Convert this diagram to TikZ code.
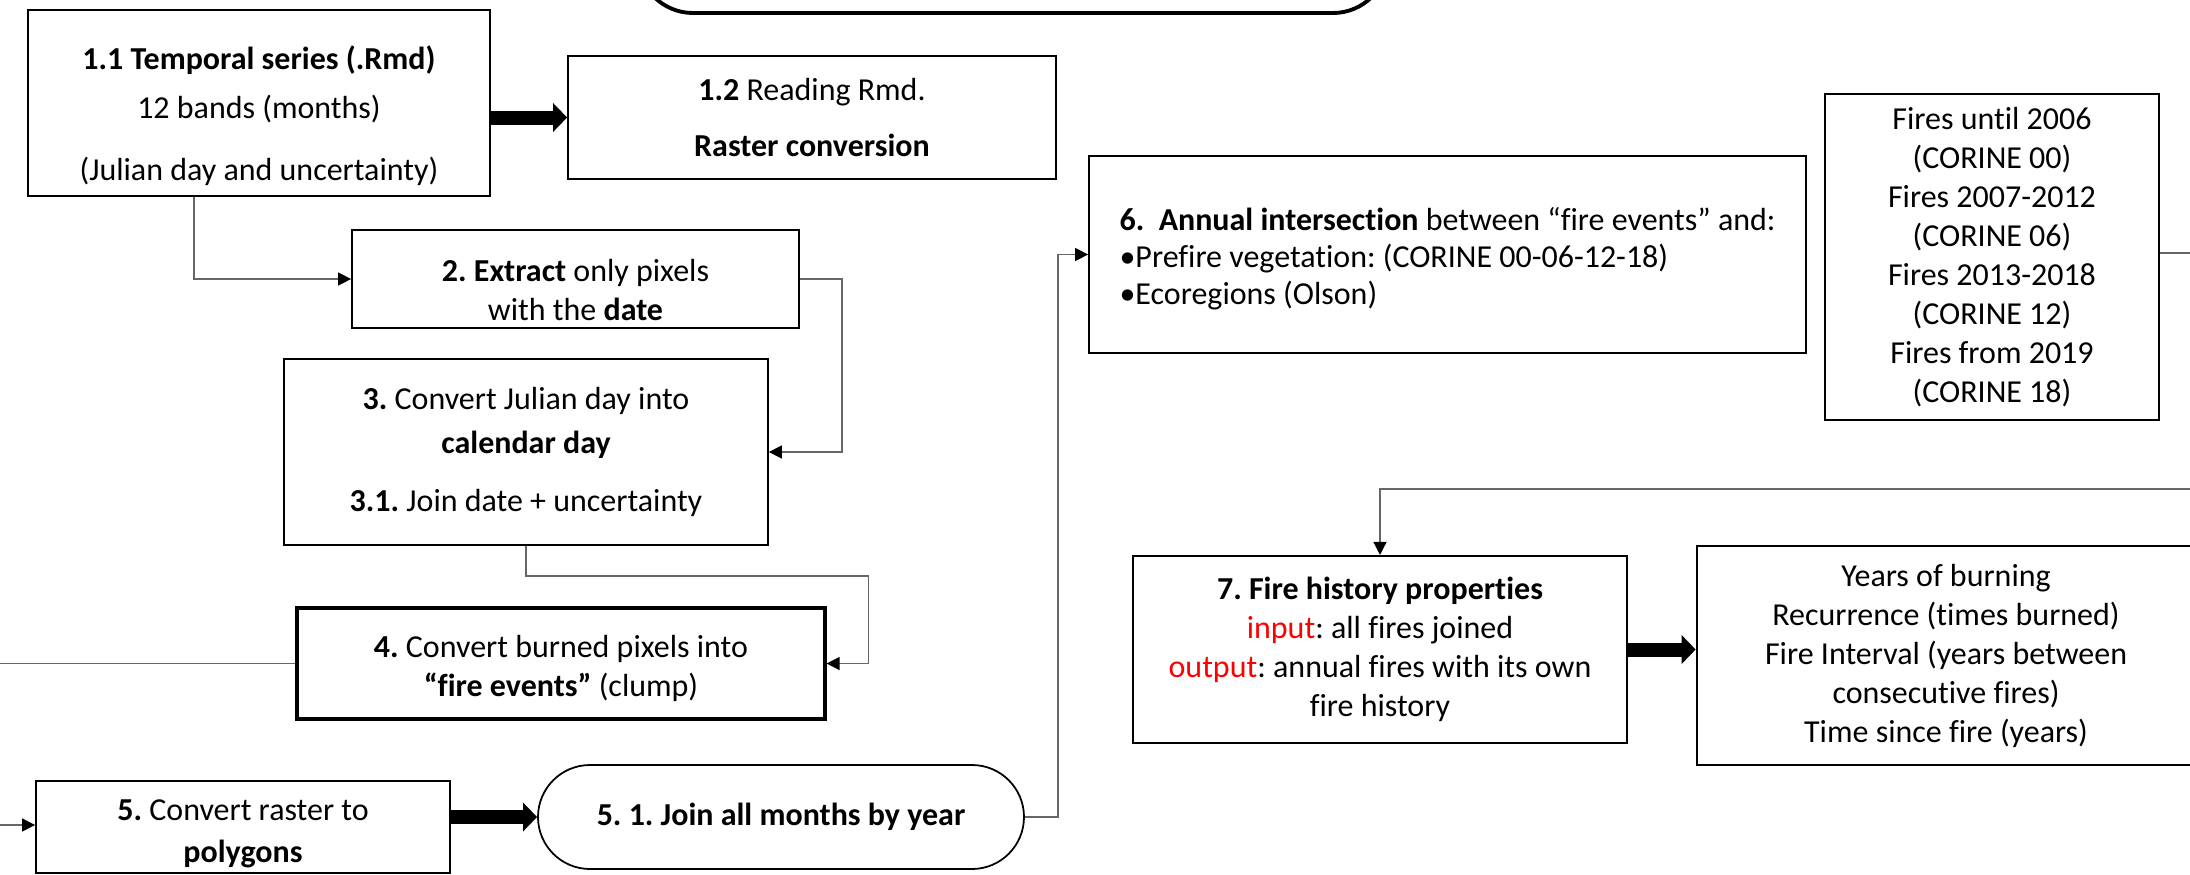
\documentclass[tikz,border=0pt]{standalone}
\usepackage{fontspec}
\setmainfont{Carlito}[Ligatures={TeX,NoCommon}]
\usetikzlibrary{arrows.meta}
% taller first line, to set the text lower in its box
\newcommand{\firstup}[1]{\rule{0pt}{#1}}

\begin{document}
\begin{tikzpicture}[x=1cm,y=1cm,
  font=\fontsize{9.1}{11.1}\selectfont\frenchspacing,
  flowbox/.style={draw, line width=0.5pt, align=center, inner sep=0pt},
  heavybox/.style={flowbox, line width=0.75pt},
  con/.style={draw=black!60, line width=0.4pt},
  arr/.style={-{Triangle[length=0.13cm,width=0.13cm,color=black]}},
  fat/.style={line width=0.14cm, -{Triangle[length=0.14cm,width=0.28cm]}}]
\useasboundingbox (0,0) rectangle (21.9,-8.74);
\node[draw, line width=1.1pt, rounded corners=0.55cm, minimum width=7.5cm, minimum height=1.1cm] (top) at (10.13,0.42) {};
\node[flowbox, minimum width=4.62cm, minimum height=1.86cm] (t11) at (2.59,-1.03) {\firstup{14pt}\textbf{1.1 Temporal series (.Rmd)}\\[3pt] 12 bands (months)\\[6.5pt] (Julian day and uncertainty)};
\node[flowbox, minimum width=4.88cm, minimum height=1.23cm] (t12) at (8.12,-1.175) {\textbf{1.2} Reading Rmd.\\[5pt] \textbf{Raster conversion}};
\node[flowbox, minimum width=4.47cm, minimum height=0.98cm] (ext) at (5.755,-2.79) {\firstup{12.4pt}\textbf{2. Extract} only pixels\\ with the \textbf{date}};
\node[flowbox, minimum width=4.84cm, minimum height=1.86cm] (cal) at (5.26,-4.52) {\textbf{3.} Convert Julian day into\\[1.5pt] \textbf{calendar day}\\[5.5pt] \textbf{3.1.} Join date + uncertainty};
\node[heavybox, line width=0.9pt, minimum width=5.28cm, minimum height=1.11cm] (clump) at (5.61,-6.635) {\firstup{9pt}\textbf{4.} Convert burned pixels into\\ \textbf{“fire events”} (clump)};
\node[flowbox, minimum width=4.14cm, minimum height=0.92cm] (poly) at (2.43,-8.27) {\firstup{10pt}\textbf{5.} Convert raster to\\[0.8pt] \textbf{polygons}};
\node[flowbox, rounded corners=0.52cm, minimum width=4.86cm, minimum height=1.04cm] (join) at (7.81,-8.17) {\textbf{5. 1. Join all months by year}};
\node[flowbox, align=left, minimum width=7.17cm, minimum height=1.97cm] (inter) at (14.475,-2.545) {\firstup{9pt}\textbf{6.\ \ Annual intersection} between “fire events” and:\\[-0.5pt] •Prefire vegetation: (CORINE 00-06-12-18)\\[-0.5pt] •Ecoregions (Olson)};
\node[heavybox, minimum width=3.34cm, minimum height=3.26cm] (corine) at (19.92,-2.57) {Fires until 2006\\ (CORINE 00)\\ Fires 2007-2012\\ (CORINE 06)\\ Fires 2013-2018\\ (CORINE 12)\\ Fires from 2019\\ (CORINE 18)};
\node[heavybox, line width=0.6pt, minimum width=4.94cm, minimum height=1.87cm] (hist) at (13.80,-6.495) {\textbf{7. Fire history properties}\\ \textcolor{red}{input}: all fires joined\\ \textcolor{red}{output}: annual fires with its own\\ fire history};
\node[heavybox, minimum width=4.98cm, minimum height=2.19cm] (years) at (19.46,-6.555) {Years of burning\\ Recurrence (times burned)\\ Fire Interval (years between\\ consecutive fires)\\ Time since fire (years)};
% ends that leave the picture
\coordinate (offL1) at (-0.1,-6.635);
\coordinate (offL2) at (-0.1,-8.25);
\coordinate (offR1) at (22.1,-2.53);
\coordinate (offR2) at (22.1,-4.89);
% connectors
\draw[con,arr] ([xshift=-0.65cm]t11.south) |- (ext.west);
\draw[con,arr] (ext.east) -- ++(0.42,0) |- (cal.east);
\draw[con,arr] (cal.south) -- ++(0,-0.3) -| ([xshift=0.42cm]clump.east) -- (clump.east);
\draw[con] (clump.west) -- (offL1);
\draw[con,arr] (offL2) -- (offL2 -| poly.west);
\draw[con,arr] (join.east) -- ++(0.33,0) |- (inter.west);
\draw[con] (corine.east |- offR1) -- (offR1);
\draw[con,arr] (offR2) -| (hist.north);
\draw[fat] (t11.east |- t12.west) -- (t12.west);
\draw[fat] (poly.east |- join.west) -- (join.west);
\draw[fat] (hist.east) -- (hist.east -| years.west);
\end{tikzpicture}
\end{document}
